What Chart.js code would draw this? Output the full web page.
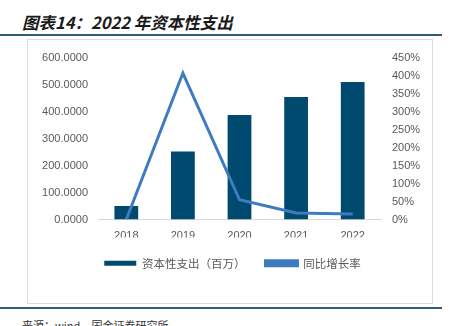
<!DOCTYPE html>
<html>
<head>
<meta charset="utf-8">
<script src="https://cdn.jsdelivr.net/npm/chart.js@4"></script>
<style>
  body { margin: 0; width: 453px; height: 326px; overflow: hidden; background: #fff; position: relative; font-family: "Noto Sans CJK SC", sans-serif; }
  #title { position: absolute; left: 22px; top: 10px; font-size: 16.5px; line-height: 24px; font-weight: bold; font-style: italic; color: #1a1a1a; white-space: nowrap; }
  .rule { position: absolute; left: 0; width: 442px; height: 2px; background: #2e5d7c; }
  #box { position: absolute; left: 27px; top: 39px; width: 404px; height: 263px; border: 1px solid #dcdcdc; }
  #source { position: absolute; left: 22px; top: 318px; font-size: 11px; line-height: 14px; color: #333; white-space: nowrap; }
  #wrap { position: absolute; left: 0; top: 0; width: 453px; height: 326px; }
</style>
</head>
<body>
<div id="title">图表14：2022 年资本性支出</div>
<div class="rule" style="top:34px"></div>
<div id="box"></div>
<div class="rule" style="top:307px"></div>
<div id="source">来源：wind，国金证券研究所</div>
<div id="wrap"><canvas id="chart" width="453" height="326"></canvas></div>
<script>
const years = ["2018", "2019", "2020", "2021", "2022"];
const capex = [50, 253, 388, 455, 511];        // 资本性支出（百万）
const growth = [0, 408, 55, 18, 15];          // 同比增长率 (%)
const leftTicks = [0, 100, 200, 300, 400, 500, 600];
const rightTicks = [0, 50, 100, 150, 200, 250, 300, 350, 400, 450];

const tickFont = { family: "'Liberation Sans', Arial, sans-serif", size: 11 };
const tickColor = "#595959";

const ctx = document.getElementById("chart").getContext("2d");
new Chart(ctx, {
  data: {
    labels: years,
    datasets: [
      {
        type: "line",
        label: "同比增长率",
        data: growth,
        yAxisID: "y1",
        borderColor: "#3f7cbf",
        backgroundColor: "#3f7cbf",
        borderWidth: 3,
        pointRadius: 0,
        tension: 0,
        order: 0
      },
      {
        type: "bar",
        label: "资本性支出（百万）",
        data: capex,
        yAxisID: "y",
        backgroundColor: "#004a6f",
        categoryPercentage: 1,
        barPercentage: 0.42,
        order: 1
      }
    ]
  },
  options: {
    responsive: false,
    animation: false,
    layout: { padding: { left: 40, right: 28, top: 58, bottom: 47 } },
    scales: {
      x: {
        grid: { display: false },
        border: { color: "#d9d9d9", width: 1 },
        afterFit: (axis) => { axis.height = 18; },
        ticks: { color: tickColor, font: tickFont, padding: 2 }
      },
      y: {
        position: "left",
        min: 0,
        max: 600,
        afterBuildTicks: (axis) => { axis.ticks = leftTicks.map(v => ({ value: v })); },
        afterFit: (axis) => { axis.width = 58; },
        grid: { display: false, drawTicks: false },
        border: { display: false },
        ticks: { color: tickColor, font: tickFont, padding: 10, callback: v => v.toFixed(4) }
      },
      y1: {
        position: "right",
        min: 0,
        max: 450,
        afterBuildTicks: (axis) => { axis.ticks = rightTicks.map(v => ({ value: v })); },
        afterFit: (axis) => { axis.width = 44; },
        grid: { display: false, drawTicks: false },
        border: { display: false },
        ticks: { color: tickColor, font: tickFont, padding: 11, callback: v => v + "%" }
      }
    },
    plugins: {
      legend: {
        position: "bottom",
        reverse: true,
        labels: {
          boxWidth: 32,
          boxHeight: 5,
          padding: 20,
          color: tickColor,
          font: { family: "'Noto Sans CJK SC', sans-serif", size: 11.5 }
        }
      },
      tooltip: { enabled: false }
    }
  }
});
</script>
</body>
</html>
